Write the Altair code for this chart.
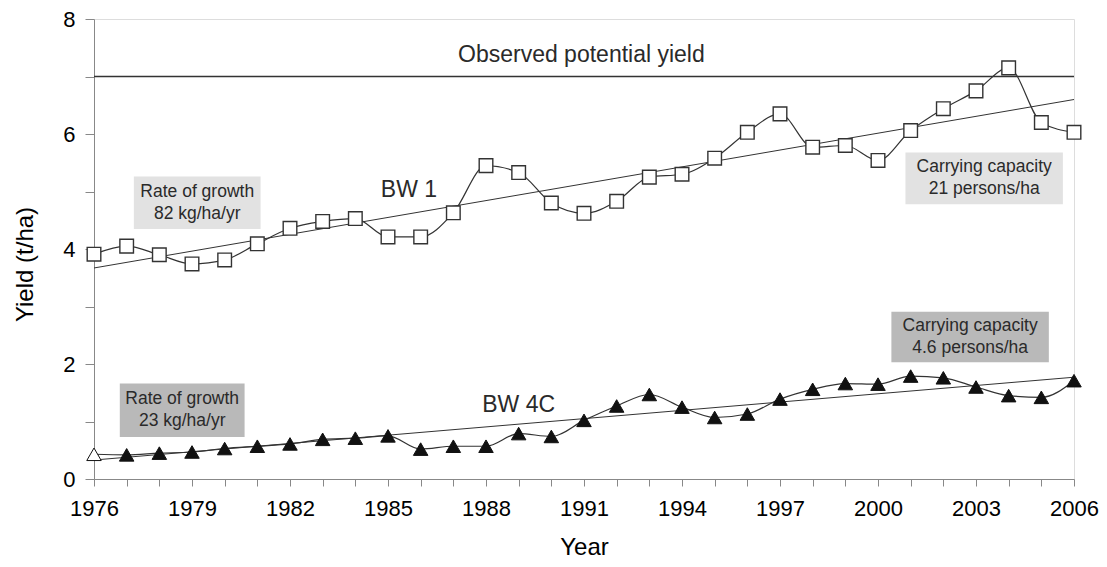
import altair as alt
import pandas as pd

# ---- data ----
years = list(range(1976, 2007))
bw1 = [3.91, 4.05, 3.90, 3.74, 3.81, 4.09, 4.36, 4.48, 4.53, 4.21, 4.21, 4.63,
       5.45, 5.33, 4.80, 4.62, 4.83, 5.25, 5.30, 5.58, 6.03, 6.35, 5.77, 5.80,
       5.54, 6.06, 6.44, 6.75, 7.15, 6.20, 6.03]
bw4c = [0.43, 0.42, 0.45, 0.47, 0.53, 0.57, 0.61, 0.69, 0.71, 0.75, 0.52, 0.57,
        0.57, 0.79, 0.74, 1.02, 1.27, 1.47, 1.25, 1.07, 1.13, 1.39, 1.56, 1.66,
        1.65, 1.79, 1.76, 1.60, 1.45, 1.42, 1.71]
bw4c_open = [True] + [False] * 30

trend_years = [1976, 2006]
trend_bw1 = [3.67, 6.60]
trend_bw4c = [0.33, 1.77]

potential_yield = [7.0]

# annotation labels (data coordinates)
label_text = ["Observed potential yield", "BW 1", "BW 4C"]
label_x = [1990.92, 1985.64, 1989.0]
label_y = [7.38, 5.02, 1.28]

box_line1 = ["Rate of growth", "Carrying capacity", "Rate of growth", "Carrying capacity"]
box_line2 = ["82 kg/ha/yr", "21 persons/ha", "23 kg/ha/yr", "4.6 persons/ha"]
box_x1 = [1977.22, 2000.84, 1976.79, 2000.41]
box_x2 = [1981.10, 2005.66, 1980.61, 2005.23]
box_y1 = [4.35, 4.78, 0.73, 2.03]
box_y2 = [5.26, 5.68, 1.66, 2.91]
box_fill = ["#e2e2e2", "#e2e2e2", "#b9b9b9", "#b9b9b9"]

FONT = "Liberation Sans"
INK = "#2a2a2a"

df1 = pd.DataFrame({"year": years, "y": bw1})
df4 = pd.DataFrame({"year": years, "y": bw4c, "open": bw4c_open})
dft1 = pd.DataFrame({"year": trend_years, "y": trend_bw1})
dft4 = pd.DataFrame({"year": trend_years, "y": trend_bw4c})
dfp = pd.DataFrame({"y": potential_yield})
dfl = pd.DataFrame({"t": label_text, "x": label_x, "y": label_y})
dfb = pd.DataFrame({"t1": box_line1, "t2": box_line2, "x1": box_x1, "x2": box_x2,
                    "y1": box_y1, "y2": box_y2, "fill": box_fill,
                    "xc": [(a + b) / 2 for a, b in zip(box_x1, box_x2)],
                    "yc": [(a + b) / 2 for a, b in zip(box_y1, box_y2)]})

xscale = alt.Scale(domain=[1976, 2006], nice=False, zero=False)
yscale = alt.Scale(domain=[0, 8], nice=False)

xaxis = alt.Axis(
    title="Year", values=years, format="d", tickCount=100,
    labelExpr="(datum.value - 1976) % 3 == 0 ? datum.label : ''",
    labelOverlap=False, labelBound=False, labelFlush=False,
    tickSize=7, labelPadding=12, labelFontSize=22, titleFontSize=24,
    titleFontWeight="normal", titleBaseline="alphabetic", titleY=75, grid=False,
)
yaxis = alt.Axis(
    title="Yield (t/ha)", values=list(range(0, 9)), format="d", tickCount=100,
    labelExpr="datum.value % 2 == 0 ? datum.label : ''",
    labelOverlap=False, labelBound=False, labelFlush=False,
    tickSize=9, labelPadding=10, labelFontSize=22, titleFontSize=24,
    titleFontWeight="normal", titleBaseline="alphabetic", titleX=-62,
    titleY=245, titleAngle=270, grid=False,
)

X = alt.X("year:Q", scale=xscale, axis=xaxis)
Y = alt.Y("y:Q", scale=yscale, axis=yaxis)

boxes = alt.Chart(dfb).mark_rect().encode(
    x=alt.X("x1:Q", scale=xscale, axis=xaxis), x2="x2:Q",
    y=alt.Y("y1:Q", scale=yscale, axis=yaxis), y2="y2:Q",
    fill=alt.Fill("fill:N", scale=None),
)
box_l1 = alt.Chart(dfb).mark_text(
    font=FONT, fontSize=17.5, color=INK, baseline="middle", align="center", dy=-11,
).encode(x=alt.X("xc:Q", scale=xscale), y=alt.Y("yc:Q", scale=yscale), text="t1:N")
box_l2 = alt.Chart(dfb).mark_text(
    font=FONT, fontSize=17.5, color=INK, baseline="middle", align="center", dy=11,
).encode(x=alt.X("xc:Q", scale=xscale), y=alt.Y("yc:Q", scale=yscale), text="t2:N")

pot = alt.Chart(dfp).mark_rule(color="#333", strokeWidth=1.6).encode(y=alt.Y("y:Q", scale=yscale))

t1 = alt.Chart(dft1).mark_line(color="#333", strokeWidth=1).encode(x=X, y=Y)
t4 = alt.Chart(dft4).mark_line(color="#333", strokeWidth=1).encode(x=X, y=Y)

l1 = alt.Chart(df1).mark_line(color="#333", strokeWidth=1.2, interpolate="monotone").encode(x=X, y=Y)
p1 = alt.Chart(df1).mark_point(shape="square", size=185, filled=True, fill="white",
                               stroke="#333", strokeWidth=1.4, opacity=1).encode(x=X, y=Y)

l4 = alt.Chart(df4).mark_line(color="#333", strokeWidth=1.2, interpolate="monotone").encode(x=X, y=Y)
p4 = alt.Chart(df4).mark_point(shape="triangle-up", size=210, filled=True,
                               stroke="#111", strokeWidth=1, opacity=1).encode(
    x=X, y=Y,
    fill=alt.condition("datum.open", alt.value("white"), alt.value("#111")),
)

labels = alt.Chart(dfl).mark_text(
    font=FONT, fontSize=23, color=INK, baseline="middle", align="center",
).encode(x=alt.X("x:Q", scale=xscale), y=alt.Y("y:Q", scale=yscale), text="t:N")

chart = alt.layer(
    boxes, box_l1, box_l2, pot, t1, t4, l1, l4, p1, p4, labels
).properties(
    width=980, height=460,
    autosize=alt.AutoSizeParams(type="none"),
    padding={"left": 86, "top": 11, "right": 25, "bottom": 80},
).configure_view(
    stroke="#333", strokeWidth=1.4,
).configure_axis(
    domainColor="#333", tickColor="#333", domainWidth=1.4, tickWidth=1.4,
    labelColor=INK, titleColor=INK, labelFont=FONT, titleFont=FONT,
    titleFontWeight="normal",
).configure(background="white")

chart.save("out.html", embed_options={"renderer": "svg", "actions": False})
